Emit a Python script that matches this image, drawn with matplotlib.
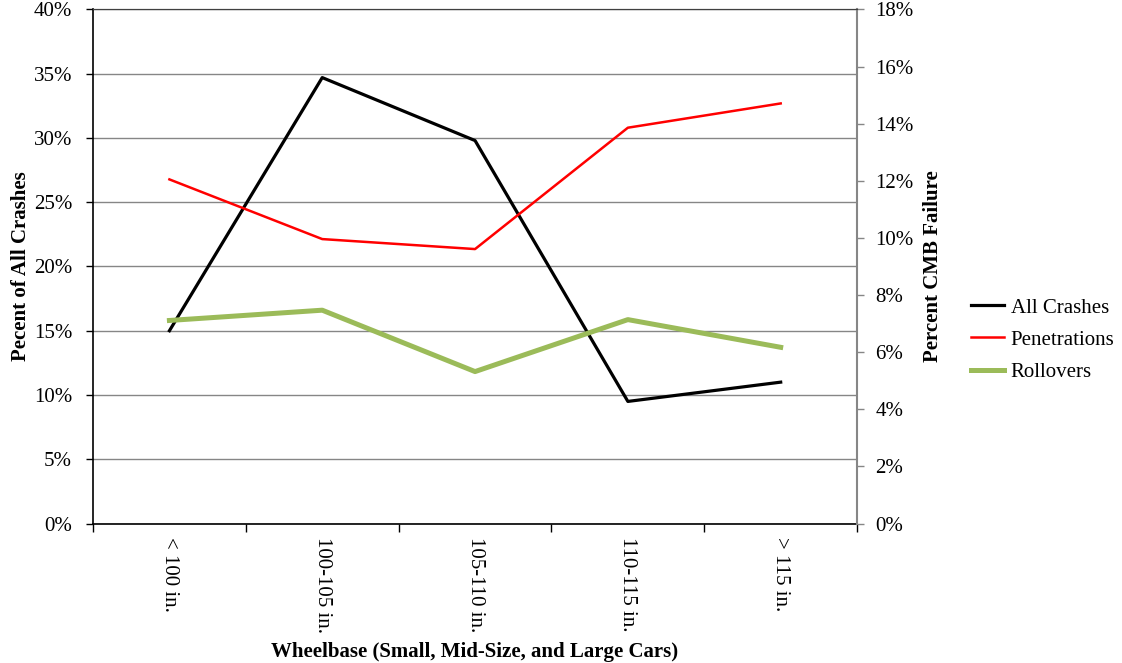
import numpy as np
import matplotlib
matplotlib.use('Agg')
import matplotlib.pyplot as plt
from matplotlib.ticker import PercentFormatter

plt.rcParams['font.family'] = ['Liberation Serif', 'DejaVu Serif']

categories = ['< 100 in.', '100-105 in.', '105-110 in.', '110-115 in.', '> 115 in.']
all_crashes = [15.0, 34.7, 29.8, 9.5, 11.0]      # left axis
penetrations = [12.05, 9.96, 9.61, 13.86, 14.71]  # right axis
rollovers = [7.11, 7.47, 5.32, 7.14, 6.17]        # right axis

x = np.arange(len(categories))

fig = plt.figure(figsize=(11.22, 6.63), dpi=100)
ax = fig.add_axes([0.0829, 0.2104, 0.681, 0.7753])
ax2 = ax.twinx()

grid_c = '#868686'
l1, = ax.plot(x, all_crashes, color='black', lw=2.3, label='All Crashes', zorder=3)
l2, = ax2.plot(x, penetrations, color='#ff0000', lw=1.8, label='Penetrations', zorder=3)
l3, = ax2.plot(x, rollovers, color='#9bbb59', lw=3.6, label='Rollovers', zorder=2)

ax.set_xlim(-0.5, len(categories) - 0.5)
ax.set_ylim(0, 40)
ax.set_yticks(np.arange(0, 41, 5))
ax.yaxis.set_major_formatter(PercentFormatter(decimals=0))
ax2.set_ylim(0, 18)
ax2.set_yticks(np.arange(0, 19, 2))
ax2.yaxis.set_major_formatter(PercentFormatter(decimals=0))

fs = 15
ax.set_xticks(x)
ax.set_xticklabels(categories, rotation=-90, fontsize=fs)
ax.set_xticks(np.arange(-0.5, len(categories), 1), minor=True)
ax.tick_params(axis='x', which='major', length=0, pad=10)
ax.tick_params(axis='x', which='minor', length=6, width=1, color='black', direction='out')
ax.tick_params(axis='y', length=5, width=1, labelsize=fs, color='black', pad=10)
ax2.tick_params(axis='y', length=5, width=1, labelsize=fs, color=grid_c, pad=8)

ax.grid(axis='y', color=grid_c, lw=1)
ax.set_axisbelow(True)

for s in ['left', 'bottom']:
    ax.spines[s].set_color('black')
    ax.spines[s].set_linewidth(1.2)
ax.spines['top'].set_color('#404040')
ax2.spines['top'].set_color('#404040')
ax2.spines['right'].set_color(grid_c)
ax2.spines['right'].set_linewidth(1.5)
ax2.spines['left'].set_visible(False)
ax2.spines['bottom'].set_visible(False)
ax.spines['right'].set_visible(False)

ax.set_ylabel('Pecent of All Crashes', fontsize=fs, fontweight='bold', labelpad=2)
ax2.set_ylabel('Percent CMB Failure', fontsize=fs, fontweight='bold', labelpad=7)
ax.set_xlabel('Wheelbase (Small, Mid-Size, and Large Cars)', fontsize=fs, fontweight='bold', labelpad=6)

fig.legend(handles=[l1, l2, l3], loc='center left', bbox_to_anchor=(0.8484, 0.4872),
           frameon=False, fontsize=fs, handlelength=1.6, handletextpad=0.33,
           labelspacing=0.6)

fig.savefig('out.png', dpi=100)
